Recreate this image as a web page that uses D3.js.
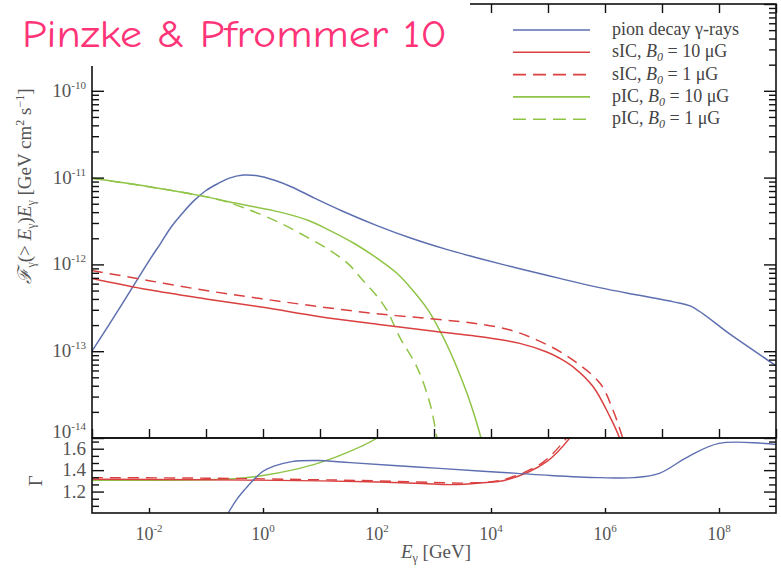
<!DOCTYPE html>
<html><head><meta charset="utf-8">
<script src="https://cdn.jsdelivr.net/npm/d3@7"></script>
<style>body{margin:0;background:#fff}svg{display:block}</style>
</head><body>
<svg id="c" width="781" height="569"></svg>
<script>
// ---------- data ----------
// top panel: F(>E) E  [GeV cm^-2 s^-1] vs E [GeV]
const pionE = [1e-3, 3.2e-3, 1e-2, 1.6e-2, 2.5e-2, 4e-2, 6.3e-2, 0.1, 0.16, 0.25, 0.45, 0.8, 1.6, 3.2, 8, 25, 100, 400, 1600, 6300, 3.2e4, 1.6e5, 8e5, 4e6, 1.6e7, 3.2e7, 1.6e8, 1e9];
const pionF = [1.0e-13, 3.3e-13, 1.1e-12, 1.75e-12, 2.75e-12, 4.0e-12, 5.5e-12, 7.1e-12, 8.5e-12, 9.8e-12, 1.07e-11, 1.05e-11, 9.3e-12, 7.8e-12, 5.8e-12, 4.1e-12, 2.8e-12, 2.0e-12, 1.5e-12, 1.17e-12, 8.9e-13, 6.9e-13, 5.4e-13, 4.4e-13, 3.7e-13, 3.3e-13, 1.55e-13, 6.8e-14];

const sIC10E = [1e-3, 1e-2, 0.1, 1, 10, 100, 1000, 1e4, 3.2e4, 9.5e4, 1.6e5, 2.75e5, 6.2e5, 1.23e6, 1.8e6, 2.0e6];
const sIC10F = [6.9e-13, 5.1e-13, 4.0e-13, 3.2e-13, 2.5e-13, 2.05e-13, 1.7e-13, 1.41e-13, 1.23e-13, 9.8e-14, 8.3e-14, 6.6e-14, 3.9e-14, 1.74e-14, 1.0e-14, 8e-15];

const sIC1E = [1e-3, 1e-2, 0.1, 1, 10, 100, 1000, 5000, 2.0e4, 6.3e4, 2.1e5, 8.1e5, 1.38e6, 2.1e6, 2.3e6];
const sIC1F = [8.5e-13, 6.5e-13, 5.0e-13, 4.0e-13, 3.25e-13, 2.7e-13, 2.35e-13, 2.1e-13, 1.78e-13, 1.35e-13, 8.9e-14, 4.3e-14, 2.1e-14, 9.5e-15, 8e-15];

const pIC10E = [1e-3, 1e-2, 7.9e-2, 0.32, 2.0, 6.3, 15, 40, 112, 224, 427, 794, 1260, 2000, 3240, 4470, 6300, 7240];
const pIC10F = [9.8e-12, 7.85e-12, 6.2e-12, 5.1e-12, 4.0e-12, 3.2e-12, 2.45e-12, 1.74e-12, 1.12e-12, 7.9e-13, 5.0e-13, 2.95e-13, 1.74e-13, 9.3e-14, 4.3e-14, 2.4e-14, 1.15e-14, 8e-15];

const pIC1E = [1e-3, 1e-2, 7.9e-2, 0.18, 0.5, 2.0, 5.6, 15, 32, 56, 100, 150, 250, 500, 850, 1120, 1200];
const pIC1F = [9.8e-12, 7.85e-12, 6.2e-12, 5.5e-12, 4.4e-12, 3.0e-12, 2.1e-12, 1.45e-12, 1.0e-12, 6.6e-13, 4.3e-13, 2.95e-13, 1.45e-13, 6.6e-14, 2.5e-14, 1.02e-14, 8e-15];

// bottom panel: spectral index Gamma vs E [GeV]
const gPionE = [0.245, 0.35, 0.5, 0.71, 1.0, 1.6, 3.2, 9, 34, 500, 7200, 2.9e4, 1.1e5, 8e5, 3.2e6, 9e6, 2.75e7, 1e8, 1e9];
const gPion  = [1.0, 1.13, 1.23, 1.32, 1.39, 1.44, 1.48, 1.49, 1.47, 1.43, 1.39, 1.37, 1.35, 1.33, 1.33, 1.37, 1.52, 1.65, 1.64];
const gSIC10E = [1e-3, 0.1, 10, 100, 630, 2000, 6300, 1.9e4, 9.5e4, 2.5e5];
const gSIC10  = [1.315, 1.31, 1.30, 1.29, 1.275, 1.265, 1.28, 1.31, 1.48, 1.71];
const gSIC1E = [1e-3, 0.1, 10, 100, 1000, 4000, 1.6e4, 8e4, 2.2e5];
const gSIC1  = [1.33, 1.325, 1.31, 1.30, 1.285, 1.28, 1.31, 1.47, 1.71];
const gPIC10E = [1e-3, 0.1, 0.32, 1, 3.2, 10, 32, 100, 120];
const gPIC10  = [1.305, 1.31, 1.32, 1.35, 1.40, 1.47, 1.57, 1.70, 1.74];

// axis ticks / labels
const xLabelExps = [-2, 0, 2, 4, 6, 8];
const yTopExps = [-14, -13, -12, -11, -10];
const gammaLabels = [1.2, 1.4, 1.6];

const legendLabels = [
  {t:"pion decay γ-rays"},
  {t:"sIC, ", B:true, r:" = 10 μG"},
  {t:"sIC, ", B:true, r:" = 1 μG"},
  {t:"pIC, ", B:true, r:" = 10 μG"},
  {t:"pIC, ", B:true, r:" = 1 μG"}
];

// ---------- drawing ----------
const BLUE = "#5d6fb0", RED = "#d9403f", GREEN = "#8fc446";
const SERIF = "'Liberation Serif','Times New Roman',serif";
const svg = d3.select("#c");
const L = 92, R = 776, T = 4, M = 438, B = 513;

const x = d3.scaleLog().domain([1e-3, 1e9]).range([L, R]);
const yT = d3.scaleLog().domain([1e-14, 1e-9]).range([M, T]);
const yB = d3.scaleLinear().domain([1.0, 1.7]).range([B, M]);

const defs = svg.append("defs");
defs.append("clipPath").attr("id","cTop").append("rect").attr("x",L).attr("y",T).attr("width",R-L).attr("height",M-T);
defs.append("clipPath").attr("id","cBot").append("rect").attr("x",L).attr("y",M).attr("width",R-L).attr("height",B-M);

function zip(a,b){ return a.map((v,i)=>[v,b[i]]); }
const lineT = d3.line().x(d=>x(d[0])).y(d=>yT(d[1])).curve(d3.curveCatmullRom.alpha(0.5));
const lineB = d3.line().x(d=>x(d[0])).y(d=>yB(d[1])).curve(d3.curveCatmullRom.alpha(0.5));

const gTop = svg.append("g").attr("clip-path","url(#cTop)");
const topSeries = [
  [pionE, pionF, BLUE, null],
  [pIC10E, pIC10F, GREEN, null],
  [pIC1E, pIC1F, GREEN, "11,7"],
  [sIC10E, sIC10F, RED, null],
  [sIC1E, sIC1F, RED, "11,7"]
];
topSeries.forEach(s=>{
  gTop.append("path").attr("d", lineT(zip(s[0],s[1]))).attr("fill","none")
    .attr("stroke", s[2]).attr("stroke-width",1.5).attr("stroke-dasharray", s[3]);
});

const gBot = svg.append("g").attr("clip-path","url(#cBot)");
const botSeries = [
  [gPIC10E, gPIC10, GREEN, null],
  [gSIC10E, gSIC10, RED, null],
  [gSIC1E, gSIC1, RED, "11,7"],
  [gPionE, gPion, BLUE, null]
];
botSeries.forEach(s=>{
  gBot.append("path").attr("d", lineB(zip(s[0],s[1]))).attr("fill","none")
    .attr("stroke", s[2]).attr("stroke-width",1.4).attr("stroke-dasharray", s[3]);
});

// ---- axes (ticks only, frames drawn separately) ----
function styleAxis(g){
  g.select(".domain").remove();
  g.selectAll(".tick line").attr("stroke","#111").attr("stroke-width",1.4);
  g.selectAll(".tick text").remove();
}
const decades = d3.range(-3, 10).map(e=>Math.pow(10,e));
const evenDecades = xLabelExps.map(e=>Math.pow(10,e));
const yMajors = d3.range(-14, -8).map(e=>Math.pow(10,e));
const yMinors = [];
d3.range(-14,-9).forEach(e=>{ for(let k=2;k<=9;k++) yMinors.push(k*Math.pow(10,e)); });

svg.append("g").attr("transform",`translate(${L},0)`).call(d3.axisLeft(yT).tickValues(yMajors).tickSizeInner(-12).tickSizeOuter(0)).call(styleAxis);
svg.append("g").attr("transform",`translate(${L},0)`).call(d3.axisLeft(yT).tickValues(yMinors).tickSizeInner(-7).tickSizeOuter(0)).call(styleAxis);
svg.append("g").attr("transform",`translate(${R},0)`).call(d3.axisRight(yT).tickValues(yMajors).tickSizeInner(-12).tickSizeOuter(0)).call(styleAxis);
svg.append("g").attr("transform",`translate(${R},0)`).call(d3.axisRight(yT).tickValues(yMinors).tickSizeInner(-7).tickSizeOuter(0)).call(styleAxis);
svg.append("g").attr("transform",`translate(0,${M})`).call(d3.axisBottom(x).tickValues(decades).tickSizeInner(-9).tickSizeOuter(0)).call(styleAxis);
svg.append("g").attr("transform",`translate(0,${T})`).call(d3.axisTop(x).tickValues(decades).tickSizeInner(-9).tickSizeOuter(0)).call(styleAxis);
svg.append("g").attr("transform",`translate(0,${B})`).call(d3.axisBottom(x).tickValues(evenDecades).tickSizeInner(-5).tickSizeOuter(0)).call(styleAxis);

const gMinor = d3.range(1, 11).map(k=>1 + k*0.2/3).filter(v=>v<1.69 && !gammaLabels.some(g=>Math.abs(g-v)<1e-6));
svg.append("g").attr("transform",`translate(${L},0)`).call(d3.axisLeft(yB).tickValues(gammaLabels).tickSizeInner(-12).tickSizeOuter(0)).call(styleAxis);
svg.append("g").attr("transform",`translate(${L},0)`).call(d3.axisLeft(yB).tickValues(gMinor).tickSizeInner(-7).tickSizeOuter(0)).call(styleAxis);
svg.append("g").attr("transform",`translate(${R},0)`).call(d3.axisRight(yB).tickValues(gammaLabels).tickSizeInner(-12).tickSizeOuter(0)).call(styleAxis);
svg.append("g").attr("transform",`translate(${R},0)`).call(d3.axisRight(yB).tickValues(gMinor).tickSizeInner(-7).tickSizeOuter(0)).call(styleAxis);

// frames
svg.append("rect").attr("x",L).attr("y",T).attr("width",R-L).attr("height",M-T).attr("fill","none").attr("stroke","#111").attr("stroke-width",1.6);
svg.append("rect").attr("x",L).attr("y",M).attr("width",R-L).attr("height",B-M).attr("fill","none").attr("stroke","#111").attr("stroke-width",1.6);

// tick labels
const lab = svg.append("g").attr("font-family",SERIF).attr("fill","#555");
yTopExps.forEach(e=>{
  const yy = yT(Math.pow(10,e)) + (e===-14 ? 0 : 6);
  const t = lab.append("text").attr("x",86).attr("y",yy).attr("text-anchor","end").attr("font-size",19);
  t.append("tspan").text("10");
  t.append("tspan").attr("dy",-8).attr("font-size",11).text("-" + (-e));
});
gammaLabels.forEach(g=>{
  lab.append("text").attr("x",86).attr("y",yB(g)+6).attr("text-anchor","end").attr("font-size",19).text(g.toFixed(1));
});
xLabelExps.forEach(e=>{
  const t = lab.append("text").attr("x",x(Math.pow(10,e))).attr("y",540).attr("text-anchor","middle").attr("font-size",18);
  t.append("tspan").text("10");
  t.append("tspan").attr("dy",-8).attr("font-size",11).text(e<0 ? "-"+(-e) : String(e));
});

// axis titles
const xt = lab.append("text").attr("x",436).attr("y",558).attr("text-anchor","middle").attr("font-size",19);
xt.append("tspan").attr("font-style","italic").text("E");
xt.append("tspan").attr("dy",4).attr("font-size",12).text("γ");
xt.append("tspan").attr("dy",-4).text(" [GeV]");

const yt = lab.append("text").attr("transform","translate(31,186) rotate(-90)").attr("text-anchor","middle").attr("font-size",19);
yt.append("tspan").attr("font-style","italic").text("ℱ");
yt.append("tspan").attr("dy",4).attr("font-size",12).text("γ");
yt.append("tspan").attr("dy",-4).text("(> ");
yt.append("tspan").attr("font-style","italic").text("E");
yt.append("tspan").attr("dy",4).attr("font-size",12).text("γ");
yt.append("tspan").attr("dy",-4).text(")");
yt.append("tspan").attr("font-style","italic").text("E");
yt.append("tspan").attr("dy",4).attr("font-size",12).text("γ");
yt.append("tspan").attr("dy",-4).text(" [GeV cm");
yt.append("tspan").attr("dy",-7).attr("font-size",12).text("2");
yt.append("tspan").attr("dy",7).text(" s");
yt.append("tspan").attr("dy",-7).attr("font-size",12).text("−1");
yt.append("tspan").attr("dy",7).text("]");

lab.append("text").attr("transform",`translate(42,${yB(1.3)}) rotate(-90)`).attr("text-anchor","middle").attr("font-size",19).text("Γ");

// white box behind title
svg.append("rect").attr("x",0).attr("y",0).attr("width",470).attr("height",66).attr("fill","#fff");
svg.append("text").attr("x",22).attr("y",47).attr("font-family","'Comic Sans MS','Comic Neue','DejaVu Sans',sans-serif")
  .attr("font-size",38).attr("fill","#ff3377").attr("textLength",425).attr("lengthAdjust","spacingAndGlyphs")
  .text("Pinzke & Pfrommer 10");

// legend
const legColors = [[BLUE,null],[RED,null],[RED,"13,7"],[GREEN,null],[GREEN,"13,7"]];
const lg = svg.append("g").attr("font-family",SERIF).attr("font-size",18).attr("fill","#444");
legendLabels.forEach((d,i)=>{
  const cy = 30 + i*22.3;
  lg.append("line").attr("x1",513).attr("x2",590).attr("y1",cy).attr("y2",cy)
    .attr("stroke",legColors[i][0]).attr("stroke-width",1.6).attr("stroke-dasharray",legColors[i][1]);
  const t = lg.append("text").attr("x",612).attr("y",cy+5);
  t.append("tspan").text(d.t);
  if(d.B){
    t.append("tspan").attr("font-style","italic").text("B");
    t.append("tspan").attr("dy",4).attr("font-size",12).attr("font-style","italic").text("0");
    t.append("tspan").attr("dy",-4).text(d.r);
  }
});
</script>
</body></html>
